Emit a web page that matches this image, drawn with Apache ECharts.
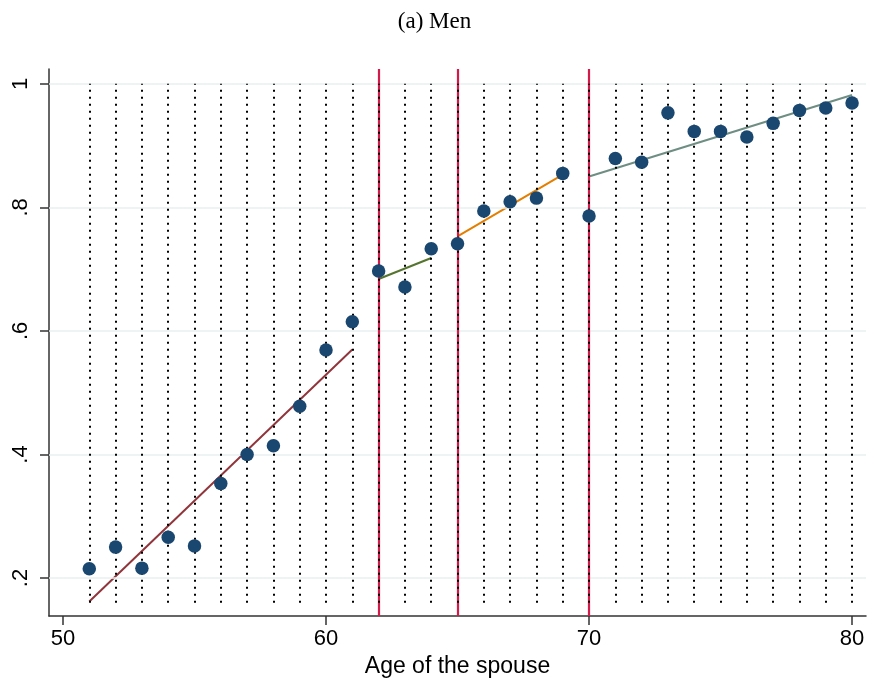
<!DOCTYPE html>
<html>
<head>
<meta charset="utf-8">
<script src="https://cdn.jsdelivr.net/npm/echarts@6/dist/echarts.min.js"></script>
<style>
  html, body { margin: 0; padding: 0; background: #ffffff; }
  #chart { width: 869px; height: 683px; }
</style>
</head>
<body>
<div id="chart"></div>
<script>
// ---------- data ----------
const ages = [51,52,53,54,55,56,57,58,59,60,61,62,63,64,65,66,67,68,69,70,71,72,73,74,75,76,77,78,79,80];
const shareMen = [0.215,0.250,0.216,0.266,0.252,0.353,0.400,0.414,0.478,0.569,0.615,0.697,0.671,0.733,0.741,0.794,0.809,0.815,0.855,0.786,0.879,0.873,0.953,0.923,0.923,0.914,0.936,0.957,0.961,0.969];
const fitSeg1 = [[51,0.162],[61,0.570]];
const fitSeg2 = [[62,0.684],[64,0.718]];
const fitSeg3 = [[65,0.753],[69,0.853]];
const fitSeg4 = [[70,0.850],[80,0.982]];
const breakAges = [62,65,70];
const xTicks = [50,60,70,80];
const yTicks = [0.2,0.4,0.6,0.8,1];
const yTickLabels = ['.2','.4','.6','.8','1'];
const titleText = '(a) Men';
const xTitle = 'Age of the spouse';

// ---------- style ----------
const dotLow = 0.16, dotHigh = 1.0;
const axisFont = 'Liberation Sans, Arial, Helvetica, sans-serif';

const chart = echarts.init(document.getElementById('chart'), null, {renderer: 'canvas'});

const gridLines = yTicks.map(v => ({yAxis: v}));
const dottedLines = ages.map(a => [{coord: [a, dotLow]}, {coord: [a, dotHigh]}]);
const redLines = breakAges.map(a => ({xAxis: a}));

function fitSeries(data, color) {
  return {
    type: 'line', data: data, symbol: 'none', z: 4,
    lineStyle: {color: color, width: 2}, silent: true, animation: false
  };
}

chart.setOption({
  animation: false,
  title: {
    text: titleText, left: 'center', top: 5,
    textStyle: {fontFamily: 'Liberation Serif, Times New Roman, serif', fontWeight: 'normal', fontSize: 23, color: '#000'}
  },
  grid: {left: 49, right: 3, top: 69, bottom: 67, containLabel: false, outerBoundsMode: 'none'},
  xAxis: {
    type: 'value', min: 49.468, max: 80.53,
    name: xTitle, nameLocation: 'middle', nameGap: 35,
    nameTextStyle: {fontFamily: axisFont, fontSize: 23, color: '#000'},
    axisLine: {show: true, onZero: false, lineStyle: {color: '#333', width: 1.5}},
    axisTick: {show: true, length: 9, customValues: xTicks, lineStyle: {color: '#333', width: 1.5}},
    axisLabel: {customValues: xTicks, margin: 12, fontFamily: axisFont, fontSize: 22, color: '#000'},
    splitLine: {show: false}
  },
  yAxis: {
    type: 'value', min: 0.1385, max: 1.024,
    axisLine: {show: true, onZero: false, lineStyle: {color: '#333', width: 1.5}},
    axisTick: {show: true, length: 9, customValues: yTicks, lineStyle: {color: '#333', width: 1.5}},
    axisLabel: {
      customValues: yTicks, rotate: 90, margin: 17, fontFamily: axisFont, fontSize: 22, color: '#000',
      formatter: v => { const i = yTicks.findIndex(t => Math.abs(t - v) < 1e-6); return i >= 0 ? yTickLabels[i] : ''; }
    },
    splitLine: {show: false}
  },
  series: [
    {
      type: 'line', data: [], silent: true, z: 1,
      markLine: {silent: true, symbol: 'none', label: {show: false}, animation: false,
        lineStyle: {color: '#e8efef', width: 1.5, type: 'solid'}, data: gridLines}
    },
    {
      type: 'line', data: [], silent: true, z: 2,
      markLine: {silent: true, symbol: 'none', label: {show: false}, animation: false,
        lineStyle: {color: '#d41a4a', width: 2.2, type: 'solid'}, data: redLines}
    },
    {
      type: 'line', data: [], silent: true, z: 3,
      markLine: {silent: true, symbol: 'none', label: {show: false}, animation: false,
        lineStyle: {color: '#000', width: 2, type: [2, 5]}, data: dottedLines}
    },
    fitSeries(fitSeg1, '#90353b'),
    fitSeries(fitSeg2, '#55752f'),
    fitSeries(fitSeg3, '#e37e00'),
    fitSeries(fitSeg4, '#6e8e84'),
    {
      type: 'scatter', z: 6, symbol: 'circle', symbolSize: 13.5,
      itemStyle: {color: '#1a476f', opacity: 1},
      data: ages.map((a, i) => [a, shareMen[i]])
    }
  ]
});
</script>
</body>
</html>
